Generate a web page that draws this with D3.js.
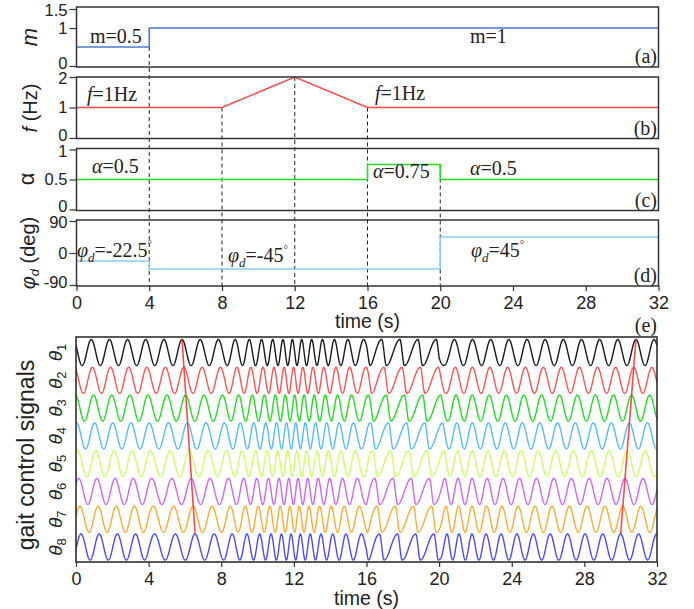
<!DOCTYPE html>
<html><head><meta charset="utf-8">
<script src="https://cdn.jsdelivr.net/npm/d3@7"></script>
<style>body{margin:0;background:#fff} svg{display:block}</style>
</head><body>
<svg id="chart" width="694" height="609"></svg>
<script>
// ---------- data ----------
const timeTicks = [0, 4, 8, 12, 16, 20, 24, 28, 32];
const mTimes = [0, 4, 32];
const mValues = [0.5, 1, 1];
const fTimes = [0, 8, 12, 16, 32];
const fValues = [1, 1, 2, 1, 1];
const alphaTimes = [0, 16, 20, 32];
const alphaValues = [0.5, 0.75, 0.5, 0.5];
const phiTimes = [0, 4, 20, 32];
const phiValues = [-22.5, -45, 45, 45];
const eventTimes = [4, 8, 12, 16, 20];
const mTicks = [0, 1, 1.5];
const fTicks = [0, 1, 2];
const alphaTicks = [0, 0.5, 1];
const phiTicks = [-90, 0, 90];
const signalIndex = ["1", "2", "3", "4", "5", "6", "7", "8"];
const signalColors = ["#1a1a1a", "#ff5252", "#22dd22", "#55bbff", "#ccff66", "#cc66ff", "#ffaa33", "#4a4aff"];
const startPhaseCycles = 0.16;   // phase of θ1 at t = 0 (cycles)
const phaseRelaxTime = 2.5;      // s
const shapeRelaxTime = 0.25;     // s
const markerPairs = [[5.85, 6.45], [30.65, 29.85]]; // θ1 peak time, θ8 peak time

// ---------- helpers ----------
const svg = d3.select("#chart");
const SANS = "'Liberation Sans', Arial, sans-serif";
const SERIF = "'Liberation Serif', 'Times New Roman', serif";
const stepAt = (times, values, t) => { let v = values[0]; for (let i = 0; i < times.length; i++) if (t >= times[i]) v = values[i]; return v; };

const x = d3.scaleLinear().domain([0, 32]).range([76.5, 658.5]);
const xe = d3.scaleLinear().domain([0, 32]).range([76, 657]);

const panels = [
  { id: "a", box: [7, 67], dom: [0, 1.5], rng: [66, 9], ticks: mTicks, times: mTimes, values: mValues, curve: d3.curveStepAfter, color: "#4a78d0" },
  { id: "b", box: [77, 138.5], dom: [0, 2], rng: [138, 77], ticks: fTicks, times: fTimes, values: fValues, curve: d3.curveLinear, color: "#ff4a4a" },
  { id: "c", box: [148.5, 210.5], dom: [0, 1], rng: [209.5, 149.5], ticks: alphaTicks, times: alphaTimes, values: alphaValues, curve: d3.curveStepAfter, color: "#22e022" },
  { id: "d", box: [220, 286], dom: [-90, 90], rng: [285, 221], ticks: phiTicks, times: phiTimes, values: phiValues, curve: d3.curveStepAfter, color: "#88ccf5" }
];
panels.forEach(p => p.y = d3.scaleLinear().domain(p.dom).range(p.rng));

// dashed event lines (behind)
const eventStart = t => {
  if (t === 4) return { p: panels[0], v: stepAt(mTimes, mValues, 0) };
  if (t === 20) return { p: panels[2], v: alphaValues[1] };
  return { p: panels[1], v: d3.scaleLinear().domain(fTimes).range(fValues)(t) };
};
svg.append("g").selectAll("line").data(eventTimes).join("line")
  .attr("x1", d => x(d)).attr("x2", d => x(d))
  .attr("y1", d => { const s = eventStart(d); return s.p.y(s.v); })
  .attr("y2", panels[3].box[1])
  .attr("stroke", "#222").attr("stroke-width", 1).attr("stroke-dasharray", "4,3");

panels.forEach(p => {
  const g = svg.append("g");
  const pts = p.times.map((t, i) => [t, p.values[i]]);
  g.append("path").datum(pts)
    .attr("d", d3.line().x(d => x(d[0])).y(d => p.y(d[1])).curve(p.curve))
    .attr("fill", "none").attr("stroke", p.color).attr("stroke-width", 1.6);
  g.append("rect").attr("x", x(0)).attr("y", p.box[0]).attr("width", x(32) - x(0)).attr("height", p.box[1] - p.box[0])
    .attr("fill", "none").attr("stroke", "#333").attr("stroke-width", 1.5);
  const ax = g.append("g").attr("transform", `translate(${x(0)},0)`)
    .call(d3.axisLeft(p.y).tickValues(p.ticks).tickSize(7).tickPadding(2).tickFormat(d => String(d)));
  ax.select(".domain").remove();
  ax.selectAll("line").attr("stroke", "#333").attr("stroke-width", 1.2);
  const lo = d3.min(p.ticks), hi = d3.max(p.ticks);
  ax.selectAll("text").attr("font-family", SANS).attr("font-size", 16.5).attr("fill", "#222")
    .attr("y", d => d === lo ? -3 : d === hi ? 1.5 : 0);
  g.append("text").attr("x", 657).attr("y", p.box[1] - 4).attr("text-anchor", "end")
    .attr("font-family", SERIF).attr("font-size", 20).attr("fill", "#222").text(`(${p.id})`);
});

// x axis of upper block
const xa = svg.append("g").attr("transform", `translate(0,${panels[3].box[1]})`)
  .call(d3.axisBottom(x).tickValues(timeTicks).tickSize(5).tickPadding(5));
xa.select(".domain").remove();
xa.selectAll("line").attr("stroke", "#333").attr("stroke-width", 1.2);
xa.selectAll("text").attr("font-family", SANS).attr("font-size", 18).attr("fill", "#222");
svg.append("text").attr("x", x(16)).attr("y", 328).attr("text-anchor", "middle")
  .attr("font-family", SANS).attr("font-size", 19.5).attr("fill", "#222").text("time (s)");

// annotations
function ann(xp, yp, parts) {
  const t = svg.append("text").attr("x", xp).attr("y", yp).attr("font-family", SERIF).attr("font-size", 20).attr("fill", "#222");
  parts.forEach(([s, style]) => {
    const ts = t.append("tspan").text(s);
    if (style === "i") ts.attr("font-style", "italic");
    if (style === "sub") ts.attr("font-style", "italic").attr("font-size", 13).attr("dy", 5);
    if (style === "back") ts.attr("dy", -5);
    if (style === "sup") ts.attr("font-size", 11).attr("dy", -9);
  });
}
ann(90, 43, [["m=0.5"]]);
ann(470, 43, [["m=1"]]);
ann(87, 101, [["f", "i"], ["=1Hz"]]);
ann(375, 100, [["f", "i"], ["=1Hz"]]);
ann(92, 173, [["α", "i"], ["=0.5"]]);
ann(373, 178, [["α", "i"], ["=0.75"]]);
ann(470, 175, [["α", "i"], ["=0.5"]]);
ann(77, 257, [["φ", "i"], ["d", "sub"], ["=-22.5", "back"], ["°", "sup"]]);
ann(228, 262, [["φ", "i"], ["d", "sub"], ["=-45", "back"], ["°", "sup"]]);
ann(471, 257, [["φ", "i"], ["d", "sub"], ["=45", "back"], ["°", "sup"]]);

// y labels upper
function ylab(xp, yp, parts, size = 20) {
  const t = svg.append("text").attr("transform", `translate(${xp},${yp}) rotate(-90)`).attr("text-anchor", "middle")
    .attr("font-family", SANS).attr("font-size", size).attr("fill", "#222");
  parts.forEach(([s, style]) => {
    const ts = t.append("tspan").text(s);
    if (style === "i") ts.attr("font-style", "italic");
    if (style === "sub") ts.attr("font-style", "italic").attr("font-size", size * 0.65).attr("dy", 4);
    if (style === "back") ts.attr("dy", -4);
  });
  return t;
}
ylab(37, 37, [["m", "i"]], 22);
ylab(37, 108, [["f", "i"], [" (Hz)"]]);
ylab(34, 179, [["α"]], 22);
ylab(35, 253, [["φ", "i"], ["d", "sub"], [" (deg)", "back"]]);

// ---------- panel (e) ----------
const eBox = [337, 562];
const fAt = d3.scaleLinear().domain(fTimes).range(fValues);
const dt = 0.01, N = Math.round(32 / dt);
const samples = [];
let Phi = startPhaseCycles, Delta = phiValues[0], A = alphaValues[0];
for (let k = 0; k <= N; k++) {
  const t = k * dt;
  samples.push({ t, Phi, Delta, a: A });
  Phi += fAt(t + dt / 2) * dt;
  Delta += (stepAt(phiTimes, phiValues, t) - Delta) * (1 - Math.exp(-dt / phaseRelaxTime));
  A += (stepAt(alphaTimes, alphaValues, t) - A) * (1 - Math.exp(-dt / shapeRelaxTime));
}
function wave(cycles, a) {
  let q = cycles - Math.floor(cycles);
  const fall = 1 - a;
  return q < fall ? Math.cos(Math.PI * q / fall) : -Math.cos(Math.PI * (q - fall) / a);
}
const rowY = d3.scalePoint().domain(signalIndex).range([352.5, 547]);
const amp = 13;
const series = signalIndex.map((n, i) => samples.map(s => ({ t: s.t, v: wave(s.Phi + i * s.Delta / 360, s.a) })));

svg.append("clipPath").attr("id", "eclip").append("rect")
  .attr("x", xe(0)).attr("y", eBox[0]).attr("width", xe(32) - xe(0)).attr("height", eBox[1] - eBox[0]);
const eg = svg.append("g").attr("clip-path", "url(#eclip)");
series.forEach((s, i) => {
  const yc = rowY(signalIndex[i]);
  eg.append("path").datum(s)
    .attr("d", d3.line().x(d => xe(d.t)).y(d => yc - amp * d.v))
    .attr("fill", "none").attr("stroke", signalColors[i]).attr("stroke-width", 1.4);
});
// marker lines through peaks
function peakNear(row, t0) {
  let best = null;
  series[row].forEach(d => { if (Math.abs(d.t - t0) < 0.4 && (!best || d.v > best.v)) best = d; });
  return best.t;
}
markerPairs.forEach(([t1, t8]) => {
  const a = peakNear(0, t1), b = peakNear(7, t8);
  eg.append("line").attr("x1", xe(a)).attr("y1", rowY("1") - amp).attr("x2", xe(b)).attr("y2", rowY("8") - amp)
    .attr("stroke", "#ff2a2a").attr("stroke-width", 1.6).attr("opacity", 0.85);
});
svg.append("rect").attr("x", xe(0)).attr("y", eBox[0]).attr("width", xe(32) - xe(0)).attr("height", eBox[1] - eBox[0])
  .attr("fill", "none").attr("stroke", "#222").attr("stroke-width", 1.5);
const xb = svg.append("g").attr("transform", `translate(0,${eBox[1]})`)
  .call(d3.axisBottom(xe).tickValues(timeTicks).tickSize(5).tickPadding(5));
xb.select(".domain").remove();
xb.selectAll("line").attr("stroke", "#333").attr("stroke-width", 1.2);
xb.selectAll("text").attr("font-family", SANS).attr("font-size", 18).attr("fill", "#222");
svg.append("text").attr("x", xe(16)).attr("y", 605).attr("text-anchor", "middle")
  .attr("font-family", SANS).attr("font-size", 19.5).attr("fill", "#222").text("time (s)");
svg.append("text").attr("x", 657).attr("y", 332).attr("text-anchor", "end")
  .attr("font-family", SERIF).attr("font-size", 20).attr("fill", "#222").text("(e)");

// theta labels
signalIndex.forEach(n => {
  const t = svg.append("text").attr("transform", `translate(62,${rowY(n)}) rotate(-90)`).attr("text-anchor", "middle")
    .attr("font-family", SANS).attr("font-size", 19).attr("fill", "#222");
  t.append("tspan").attr("font-style", "italic").text("θ");
  t.append("tspan").attr("font-size", 13).attr("dy", 4).text(n);
});
ylab(34, 455, [["gait control signals"]], 23);
</script>
</body></html>
